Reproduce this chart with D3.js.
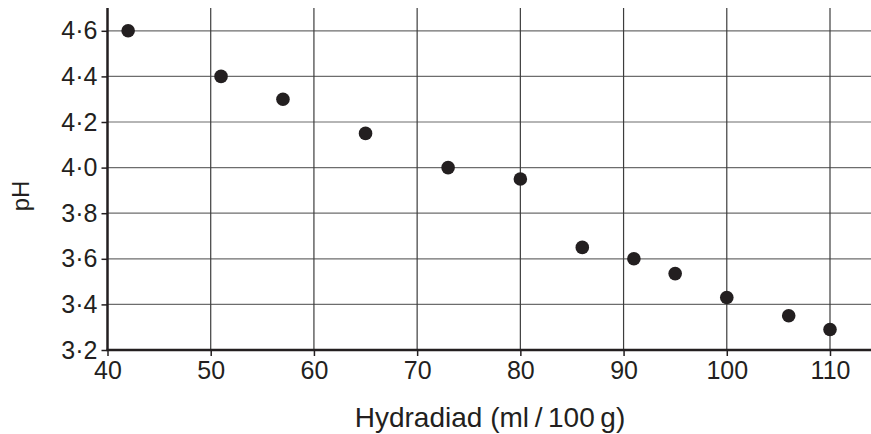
<!DOCTYPE html>
<html>
<head>
<meta charset="utf-8">
<script src="https://cdn.jsdelivr.net/npm/d3@7"></script>
<style>
  body { margin: 0; background: #fff; }
  svg text { font-family: "Liberation Sans", Arial, sans-serif; fill: #231f20; }
</style>
</head>
<body>
<div id="chart"></div>
<script>
// data
const hydration = [42, 51, 57, 65, 73, 80, 86, 91, 95, 100, 106, 110];
const phValues = [4.6, 4.4, 4.3, 4.15, 4.0, 3.95, 3.65, 3.6, 3.535, 3.43, 3.35, 3.29];
const xTicks = [40, 50, 60, 70, 80, 90, 100, 110];
const yTicks = [3.2, 3.4, 3.6, 3.8, 4.0, 4.2, 4.4, 4.6];

const width = 871, height = 434;
const plotLeft = 107.5, plotBottom = 350, plotTop = 8, plotRight = 871;

const svg = d3.select("#chart").append("svg")
    .attr("width", width)
    .attr("height", height);

const x = d3.scaleLinear().domain([40, 110]).range([plotLeft, 830]);
const y = d3.scaleLinear().domain([3.2, 4.7]).range([plotBottom, plotTop]);

const fmt = d => d3.format(".1f")(d).replace(".", "\u00b7");

// grid
svg.append("g").selectAll("line")
    .data(yTicks.slice(1))
    .join("line")
    .attr("x1", plotLeft).attr("x2", plotRight)
    .attr("y1", d => y(d)).attr("y2", d => y(d))
    .attr("stroke", "#6d6d6d").attr("stroke-width", 1.2);

svg.append("g").selectAll("line")
    .data(xTicks.slice(1))
    .join("line")
    .attr("x1", d => x(d)).attr("x2", d => x(d))
    .attr("y1", plotTop).attr("y2", plotBottom)
    .attr("stroke", "#3d3d3d").attr("stroke-width", 1.2);

// axes
const yAxis = svg.append("g")
    .attr("transform", `translate(${plotLeft},0)`)
    .call(d3.axisLeft(y).tickValues(yTicks).tickFormat(fmt).tickSize(6).tickPadding(4));
yAxis.select(".domain").remove();
yAxis.selectAll(".tick line").attr("stroke", "#231f20").attr("stroke-width", 1.5);
yAxis.selectAll(".tick text").attr("font-size", 25).attr("fill", "#231f20");

const xAxis = svg.append("g")
    .attr("transform", `translate(0,${plotBottom})`)
    .call(d3.axisBottom(x).tickValues(xTicks).tickSize(6).tickPadding(5));
xAxis.select(".domain").remove();
xAxis.selectAll(".tick line").attr("stroke", "#231f20").attr("stroke-width", 1.5);
xAxis.selectAll(".tick text").attr("font-size", 25).attr("fill", "#231f20");

svg.append("line")
    .attr("x1", plotLeft).attr("x2", plotLeft)
    .attr("y1", plotTop).attr("y2", plotBottom + 1)
    .attr("stroke", "#231f20").attr("stroke-width", 2.5);
svg.append("line")
    .attr("x1", plotLeft - 1).attr("x2", plotRight)
    .attr("y1", plotBottom).attr("y2", plotBottom)
    .attr("stroke", "#231f20").attr("stroke-width", 2.5);

// points
svg.append("g").selectAll("circle")
    .data(hydration.map((h, i) => ({ h: h, p: phValues[i] })))
    .join("circle")
    .attr("cx", d => x(d.h))
    .attr("cy", d => y(d.p))
    .attr("r", 6.8)
    .attr("fill", "#231f20");

// axis titles
svg.append("text")
    .attr("x", 490).attr("y", 427)
    .attr("text-anchor", "middle")
    .attr("font-size", 28)
    .text("Hydradiad (ml\u2009/\u2009100\u2009g)");

svg.append("text")
    .attr("transform", "translate(29,196) rotate(-90)")
    .attr("text-anchor", "middle")
    .attr("font-size", 24)
    .text("pH");
</script>
</body>
</html>
